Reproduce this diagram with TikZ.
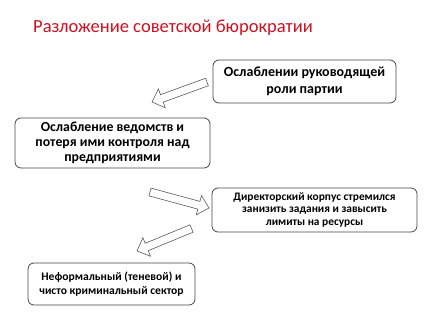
\documentclass[tikz,border=0pt]{standalone}
\usepackage{fontspec}
\setmainfont{Carlito}
\usetikzlibrary{calc}
\definecolor{titlered}{RGB}{206,16,32}
\definecolor{boxgray}{RGB}{70,70,70}
\definecolor{arrgray}{RGB}{90,90,90}
\newcommand\blkarrow[3]{%
  \coordinate (#3) at ($(#2)!10.5pt!(#1)$);
  \draw[blockarrow] ($(#1)!4pt!90:(#2)$) -- ($(#3)!4pt!90:(#2)$) -- ($(#3)!10pt!90:(#2)$) -- (#2)
    -- ($(#3)!10pt!-90:(#2)$) -- ($(#3)!4pt!-90:(#2)$) -- ($(#1)!4pt!-90:(#2)$) -- cycle;}
\begin{document}
\begin{tikzpicture}[x=1pt,y=-1pt,
  box/.style={draw=boxgray, line width=0.8pt, rounded corners=6pt, fill=white, align=center, inner sep=0pt, text=black},
  blockarrow/.style={draw=arrgray, line width=0.6pt, fill=white, line join=miter}]
\useasboundingbox (0,0) rectangle (427,320);
\node[anchor=west, inner sep=0pt, text=titlered, font=\fontsize{18.5}{22}\selectfont] (title) at (33,28) {Разложение советской бюрократии};
% arrows
\coordinate (a1t) at (207,82);
\coordinate (a1h) at (152,102);
\blkarrow{a1t}{a1h}{a1b}
\coordinate (a2t) at (150,192);
\coordinate (a2h) at (209,208);
\blkarrow{a2t}{a2h}{a2b}
\coordinate (a3t) at (191.5,228.5);
\coordinate (a3h) at (137,251);
\blkarrow{a3t}{a3h}{a3b}
% boxes
\node[box, minimum width=183pt, minimum height=43pt, font=\fontsize{14}{17}\bfseries\selectfont] (b1) at (304.5,81.5) {Ослаблении руководящей\\роли партии};
\node[box, minimum width=195pt, minimum height=50pt, font=\fontsize{13.8}{15}\bfseries\selectfont] (b2) at (112.5,143) {Ослабление ведомств и\\потеря ими контроля над\\предприятиями};
\node[box, minimum width=205pt, minimum height=44pt, font=\fontsize{11.4}{12.5}\bfseries\selectfont] (b3) at (314.5,210) {Директорский корпус стремился\\занизить задания и завысить\\лимиты на ресурсы};
\node[box, minimum width=167pt, minimum height=42pt, font=\fontsize{11.6}{14}\bfseries\selectfont] (b4) at (111.5,284) {Неформальный (теневой) и\\чисто криминальный сектор};
\end{tikzpicture}
\end{document}
